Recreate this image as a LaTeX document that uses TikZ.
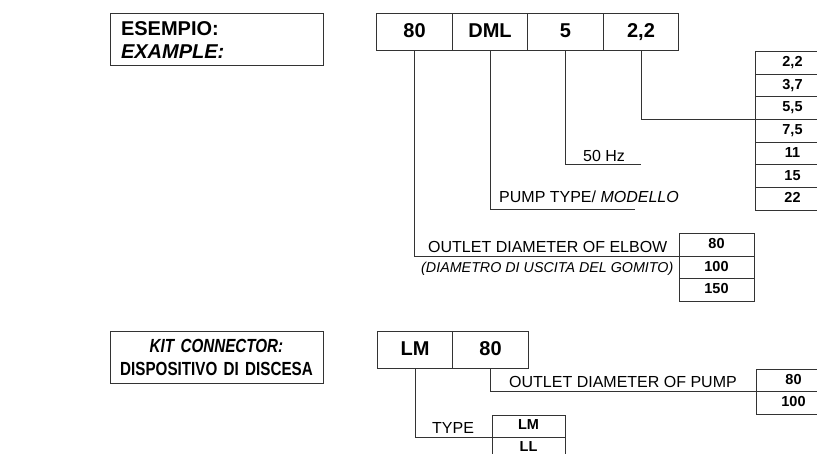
\documentclass[tikz,border=0pt]{standalone}
\usepackage{fontspec}
\setmainfont{Liberation Sans}
\newfontfamily\kitfont[FakeStretch=0.8]{Liberation Sans}
\usepackage{tikz}
\usetikzlibrary{positioning}

\begin{document}
\begin{tikzpicture}[x=1pt, y=-1pt, node distance=0pt,
    line/.style={draw=black!80, line width=1pt},
    titlebox/.style={line, rectangle, minimum width=213pt, minimum height=52pt, inner xsep=11pt, inner ysep=0pt, text width=191pt, outer sep=0pt},
    codecell/.style={line, rectangle, minimum width=75.5pt, minimum height=37pt, inner sep=0pt, outer sep=0pt, text height=14.5pt, text depth=4pt, font=\fontsize{20}{24}\selectfont\bfseries},
    valcell/.style={line, rectangle, minimum width=75pt, minimum height=22.7pt, inner sep=0pt, outer sep=0pt, text height=10.5pt, text depth=3pt, font=\fontsize{14.5}{17}\selectfont\bfseries},
    lbl/.style={inner sep=0pt, anchor=base west, font=\fontsize{16}{19}\selectfont},
    conn/.style={draw=black!80, line width=1pt}]
  \path[use as bounding box, clip] (0,0) rectangle (817,454);

  % example
  \node[titlebox, align=left, font=\fontsize{20}{23}\selectfont\bfseries] (example) at (216.5,40) {ESEMPIO:\\ \textit{EXAMPLE:}};

  \node[codecell] (c80) at (414.5,32.5) {80};
  \node[codecell, right=of c80] (cdml) {DML};
  \node[codecell, right=of cdml] (c5) {5};
  \node[codecell, right=of c5] (c22) {2,2};

  % power values
  \node[valcell] (p1) at (792.5,62.85) {2,2};
  \node[valcell, below=of p1] (p2) {3,7};
  \node[valcell, below=of p2] (p3) {5,5};
  \node[valcell, below=of p3] (p4) {7,5};
  \node[valcell, below=of p4] (p5) {11};
  \node[valcell, below=of p5] (p6) {15};
  \node[valcell, below=of p6] (p7) {22};

  % elbow values
  \node[valcell, minimum height=22.4pt] (e1) at (716.5,245.2) {80};
  \node[valcell, minimum height=22.4pt, below=of e1] (e2) {100};
  \node[valcell, minimum height=22.4pt, below=of e2] (e3) {150};

  \node[lbl] (hz) at (583,162) {50 Hz};
  \node[lbl] (model) at (499,203) {PUMP TYPE/ \textit{MODELLO}};
  \node[lbl] (elbow) at (428,252.5) {OUTLET DIAMETER OF ELBOW};
  \node[lbl, font=\fontsize{14.3}{17}\selectfont\itshape] (gomito) at (421,273) {(DIAMETRO DI USCITA DEL GOMITO)};

  \coordinate (hzend) at (641,165);
  \coordinate (modend) at (635,210);

  \draw[conn] (c22.south) |- (p3.south west);
  \draw[conn] (c5.south) |- (hzend);
  \draw[conn] (cdml.south) |- (modend);
  \draw[conn] (c80.south) |- (e1.south west);

  % kit connector
  \node[titlebox, inner xsep=3pt, text width=207pt, align=center, font=\kitfont\fontsize{19}{23}\selectfont\bfseries] (kit) at (216.5,357.5) {\textit{KIT CONNECTOR:}\\ DISPOSITIVO DI DISCESA};

  \node[codecell] (klm) at (415,350.5) {LM};
  \node[codecell, right=of klm] (k80) {80};

  \node[valcell] (q1) at (793.5,380.5) {80};
  \node[valcell, below=of q1] (q2) {100};

  \node[valcell, minimum width=73pt, minimum height=22pt] (t1) at (528.5,426) {LM};
  \node[valcell, minimum width=73pt, minimum height=22pt, below=of t1] (t2) {LL};

  \node[lbl] (pump) at (509,387.5) {OUTLET DIAMETER OF PUMP};
  \node[lbl] (type) at (432,433) {TYPE};

  \draw[conn] (k80.south) |- (q1.south west);
  \draw[conn] (klm.south) |- (t1.south west);
\end{tikzpicture}
\end{document}
